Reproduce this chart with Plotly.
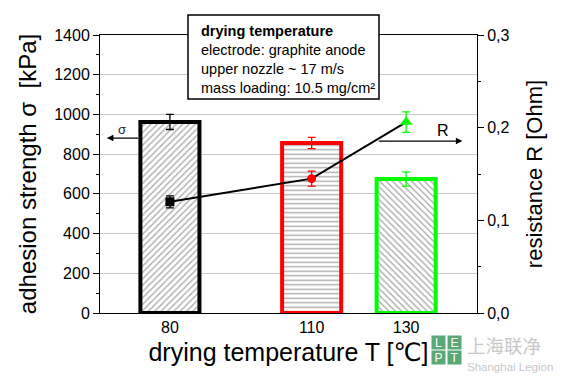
import plotly.graph_objects as go

# ---- data ----
temps = [80, 110, 130]
temp_labels = ["80", "110", "130"]
sigma = [962, 856, 675]
sigma_err = [38, 28, 36]
resist = [0.120, 0.145, 0.206]
resist_err = [0.0065, 0.008, 0.011]
colors = ["#000000", "#ff0000", "#00ff00"]
patterns = ["/", "-", "\\"]
symbols = ["square", "circle", "triangle-up"]
info_lines = ["<b>drying temperature</b>", "electrode: graphite anode",
              "upper nozzle ~ 17 m/s", "mass loading: 10.5 mg/cm²"]

FONT = "Liberation Sans, Arial, DejaVu Sans, sans-serif"

fig = go.Figure()

for t, s, e, c, p in zip(temps, sigma, sigma_err, colors, patterns):
    fig.add_trace(go.Bar(
        x=[t], y=[s], width=12.5,
        marker=dict(color="white",
                    pattern=dict(shape=p, fgcolor="#555555", bgcolor="white",
                                 size=4.5, solidity=0.3),
                    line=dict(color=c, width=4)),
        error_y=dict(type="data", array=[e], color=c, thickness=1.3, width=4),
        showlegend=False, hoverinfo="skip"))

fig.add_trace(go.Scatter(x=temps, y=resist, yaxis="y2", mode="lines",
                         line=dict(color="black", width=2), showlegend=False))

for t, r, e, c, sym in zip(temps, resist, resist_err, colors, symbols):
    fig.add_trace(go.Scatter(
        x=[t], y=[r], yaxis="y2", mode="markers",
        marker=dict(symbol=sym, color=c, size=11 if sym == "triangle-up" else 9,
                    line=dict(width=0)),
        error_y=dict(type="data", array=[e], color=c, thickness=1.3, width=4),
        showlegend=False))

# page has an 8px body margin: the figure starts at (8, 8)
OFF = 8
W, H = 564 - OFF, 380 - OFF
# plot area in page pixels
L, R, T, B = 100, 477, 35, 313
def px(xp):
    return (xp - L) / (R - L)
def py(yp):
    return (B - yp) / (B - T)

fig.add_shape(type="rect", xref="paper", yref="paper",
              x0=px(188), x1=px(379), y0=py(99), y1=py(15),
              fillcolor="white", line=dict(color="black", width=1.5), layer="above")

annotations = [
    dict(xref="paper", yref="paper", x=px(199), y=py(59.5), xanchor="left", yanchor="middle",
         text="<br>".join(info_lines), align="left", showarrow=False,
         font=dict(family=FONT, size=14.5, color="black")),
    # sigma arrow
    dict(xref="x", yref="y", axref="x", ayref="y", x=66.65, y=881, ax=73.6, ay=881,
         text="", showarrow=True, arrowhead=2, arrowsize=1, arrowwidth=1.3, arrowcolor="black"),
    dict(xref="x", yref="y", x=69.8, y=922, text="σ", showarrow=False,
         font=dict(family=FONT, size=13, color="#1a1a40")),
    # R arrow
    dict(xref="x", yref="y", axref="x", ayref="y", x=141.9, y=866, ax=123.9, ay=866,
         text="", showarrow=True, arrowhead=2, arrowsize=1, arrowwidth=1.3, arrowcolor="black"),
    dict(xref="x", yref="y", x=137.8, y=917, text="R", showarrow=False,
         font=dict(family=FONT, size=16, color="black")),
]

# watermark logo
green = "#5aa878"
for letter, cx, cy in [("L", 438.5, 342.5), ("E", 454, 342.5), ("P", 438.5, 357.5), ("T", 454, 357.5)]:
    annotations.append(dict(xref="paper", yref="paper", x=px(cx), y=py(cy),
                            xanchor="center", yanchor="middle", text=letter, showarrow=False,
                            bgcolor=green, width=11, height=11, borderpad=1,
                            font=dict(family=FONT, size=12, color="white")))
annotations.append(dict(xref="paper", yref="paper", x=px(466), y=py(345), xanchor="left",
                        yanchor="middle", text="上海联净", showarrow=False, borderpad=0,
                        font=dict(family="Noto Sans CJK SC", size=18.5, color="#c8c8c8")))
annotations.append(dict(xref="paper", yref="paper", x=px(466), y=py(367), xanchor="left",
                        yanchor="middle", text="Shanghai Legion", showarrow=False, borderpad=0,
                        font=dict(family=FONT, size=11.5, color="#c8c8c8")))

fig.update_layout(
    width=W, height=H,
    margin=dict(l=L - OFF, r=564 - R, t=T - OFF, b=380 - B, autoexpand=False),
    paper_bgcolor="white", plot_bgcolor="white",
    barmode="overlay", separators=",.",
    font=dict(family=FONT, color="black"),
    annotations=annotations,
    xaxis=dict(range=[65.2, 145], tickvals=temps, ticktext=temp_labels, ticks="",
               showline=True, linecolor="black", linewidth=1, mirror=True,
               showgrid=False, zeroline=False, tickfont=dict(size=16),
               title=dict(text="drying temperature T [℃]", font=dict(size=25), standoff=8)),
    yaxis=dict(range=[0, 1400], dtick=200, ticks="outside", ticklen=6, tickcolor="black",
               minor=dict(dtick=100, ticks="outside", ticklen=3, tickcolor="black", showgrid=False),
               showline=True, linecolor="black", linewidth=1,
               showgrid=True, gridcolor="#c8c8c8", gridwidth=1, zeroline=False,
               tickfont=dict(size=16),
               title=dict(text="adhesion strength σ  [kPa]", font=dict(size=24), standoff=10)),
    yaxis2=dict(overlaying="y", side="right", range=[0, 0.3], dtick=0.1, tickformat=".1f",
                ticks="outside", ticklen=6, tickcolor="black",
                minor=dict(dtick=0.05, ticks="outside", ticklen=3, tickcolor="black", showgrid=False),
                showline=True, linecolor="black", linewidth=1, showgrid=False, zeroline=False,
                tickfont=dict(size=16),
                title=dict(text="resistance R [Ohm]", font=dict(size=22), standoff=18)),
)

fig.write_html("out.html")
